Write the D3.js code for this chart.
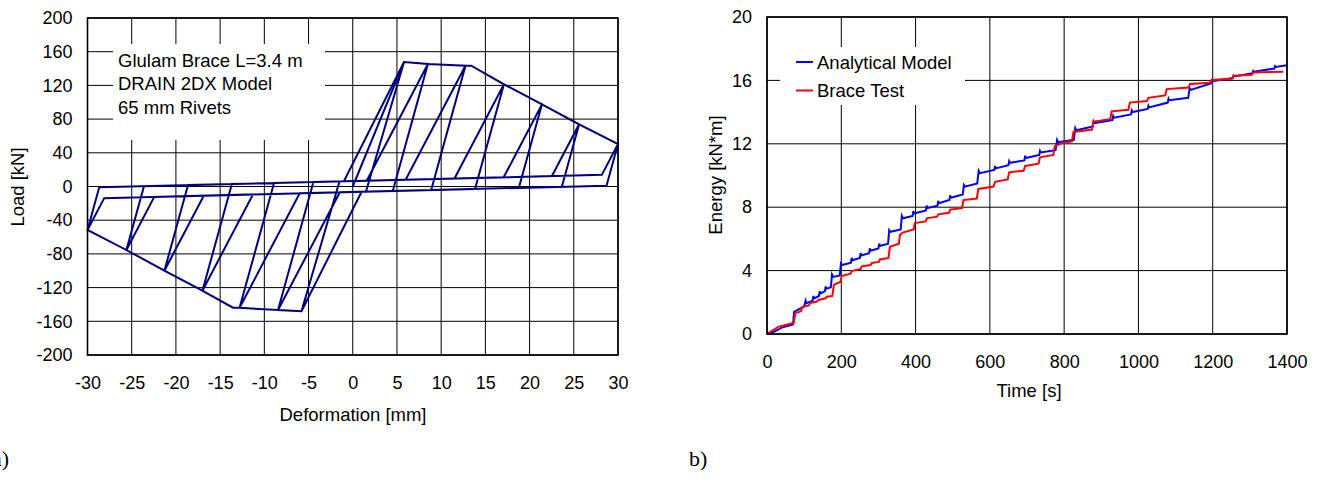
<!DOCTYPE html>
<html>
<head>
<meta charset="utf-8">
<script src="https://cdn.jsdelivr.net/npm/d3@7/dist/d3.min.js"></script>
<style>
  html, body { margin: 0; padding: 0; background: #fff; }
  svg { display: block; }
  text { font-family: "Liberation Sans", Arial, Helvetica, sans-serif; fill: #000; }
  .panel-tag { font-family: "Liberation Serif", "Times New Roman", serif; }
</style>
</head>
<body>
<svg id="fig" width="1324" height="486"></svg>
<script>
// ---- a) hysteresis: DRAIN 2DX model, vertices ----
const DEF_TICKS = [-30, -25, -20, -15, -10, -5, 0, 5, 10, 15, 20, 25, 30];
const LOAD_TICKS = [-200, -160, -120, -80, -40, 0, 40, 80, 120, 160, 200];

// envelope peaks per amplitude [deformation mm, load kN]
const posPeaks = [[5.8, 147.8], [8.5, 145.4], [12.75, 143.4], [17.1, 121.3], [21.4, 97.5], [25.6, 73.8], [30, 50.4]];
const negPeaks = [[-5.8, -148], [-8.45, -146.6], [-12.8, -144], [-17.0, -123.7], [-21.3, -99.9], [-25.6, -75.4], [-30, -51.6]];
// where reloading leaves the slip line
const posReload = [[-1.0, 6.2], [1.58, 6.91], [5.98, 8.06], [11.51, 9.49], [17.07, 10.94], [22.53, 12.36], [28.17, 13.82]];
const negReload = [[1.0, -6.2], [-1.46, -6.88], [-6.0, -8.06], [-11.29, -9.44], [-16.85, -10.88], [-22.45, -12.34], [-28.11, -13.81]];
// where unloading meets the slip line
const posUnload = [[1.5, -6.1], [4.53, -5.32], [8.87, -4.19], [13.83, -2.9], [18.79, -1.61], [23.65, -0.35], [28.7, 0.96]];
const negUnload = [[-1.5, 6.1], [-4.45, 5.34], [-8.9, 4.19], [-13.67, 2.95], [-18.63, 1.66], [-23.61, 0.36], [-28.67, -0.95]];
// backbone corners where strength starts dropping
const posCorner = [13.4, 143.4];
const negCorner = [-13.55, -143.8];

const NOTE_LINES = ['Glulam Brace L=3.4 m', 'DRAIN 2DX Model', '65 mm Rivets'];

// ---- b) dissipated energy ----
const TIME_TICKS = [0, 200, 400, 600, 800, 1000, 1200, 1400];
const ENERGY_TICKS = [0, 4, 8, 12, 16, 20];

const modelTime = [0, 20, 40, 70, 73, 100, 104, 106, 123, 125, 127, 140, 142, 144, 156, 158, 160, 172, 175, 178,
    196, 199, 202, 226, 228, 230, 250, 252, 254, 275, 277, 279, 300, 302, 304, 326, 329, 332, 360, 363, 366,
    392, 394, 396, 428, 430, 432, 459, 461, 463, 491, 493, 495, 527, 530, 533, 566, 570, 573, 612, 614, 616,
    650, 652, 654, 693, 695, 697, 733, 735, 737, 777, 781, 784, 826, 830, 833, 877, 879, 881, 930, 932, 934,
    980, 982, 984, 1025, 1027, 1029, 1079, 1081, 1083, 1134, 1138, 1141, 1195, 1197, 1199, 1254, 1256, 1258,
    1307, 1309, 1311, 1366, 1368, 1370, 1400];
const modelEnergy = [0, 0.15, 0.4, 0.6, 1.4, 1.75, 2.1, 1.95, 2.1, 2.4, 2.25, 2.4, 2.7, 2.55, 2.7, 3.0, 2.85, 2.95, 3.75, 3.6,
    3.7, 4.45, 4.35, 4.5, 4.8, 4.65, 4.8, 5.1, 4.95, 5.1, 5.4, 5.25, 5.4, 5.7, 5.55, 5.7, 6.55, 6.45, 6.6, 7.45, 7.3,
    7.45, 7.75, 7.6, 7.8, 8.1, 7.95, 8.1, 8.4, 8.25, 8.45, 8.75, 8.6, 8.8, 9.4, 9.3, 9.5, 10.3, 10.15, 10.35, 10.6, 10.45,
    10.65, 10.9, 10.8, 10.95, 11.25, 11.1, 11.3, 11.55, 11.45, 11.6, 12.25, 12.1, 12.25, 13.0, 12.85, 13.1, 13.4, 13.3, 13.5, 13.75, 13.65,
    13.85, 14.1, 14.0, 14.2, 14.4, 14.3, 14.6, 14.85, 14.75, 14.9, 15.5, 15.4, 15.8, 16.0, 15.95, 16.15, 16.3, 16.25,
    16.45, 16.6, 16.55, 16.75, 16.9, 16.85, 16.95];

const testTime = [0, 30, 55, 72, 76, 92, 95, 113, 116, 135, 138, 158, 161, 176, 180, 198, 201, 225, 228, 252, 255,
    279, 282, 301, 304, 327, 331, 355, 358, 365, 395, 398, 427, 430, 458, 461, 490, 493, 525, 529, 565, 569,
    610, 614, 648, 652, 691, 695, 731, 735, 771, 775, 795, 821, 825, 875, 879, 924, 928, 973, 977, 1023, 1027,
    1072, 1076, 1135, 1139, 1193, 1197, 1252, 1256, 1305, 1309, 1390];
const testEnergy = [0, 0.45, 0.6, 0.7, 1.3, 1.45, 1.7, 1.8, 1.95, 2.05, 2.15, 2.25, 2.35, 2.4, 3.1, 3.3, 3.65, 3.8, 3.97, 4.1, 4.27,
    4.35, 4.48, 4.55, 4.7, 4.8, 5.5, 5.7, 6.25, 6.4, 6.6, 7.0, 7.1, 7.3, 7.4, 7.55, 7.65, 7.85, 7.95, 8.45, 8.55, 9.15,
    9.3, 9.6, 9.75, 10.2, 10.3, 10.6, 10.75, 11.15, 11.3, 11.85, 12.05, 12.15, 12.75, 12.9, 13.4, 13.55, 14.05, 14.15, 14.6, 14.7, 14.9,
    15.05, 15.45, 15.55, 15.78, 15.85, 16.03, 16.1, 16.3, 16.35, 16.5, 16.55];

const SERIES = [
    { name: 'Analytical Model', color: '#0000ff', time: modelTime, energy: modelEnergy },
    { name: 'Brace Test', color: '#ff0000', time: testTime, energy: testEnergy },
];

const svg = d3.select('#fig');

function grid(g, x, y, xTicks, yTicks) {
    const [x0, x1] = x.range();
    const [y0, y1] = y.range();
    g.append('g').selectAll('line').data(xTicks).join('line')
        .attr('x1', d => x(d)).attr('x2', d => x(d))
        .attr('y1', y0).attr('y2', y1)
        .attr('stroke', '#000').attr('stroke-width', 1);
    g.append('g').selectAll('line').data(yTicks).join('line')
        .attr('x1', x0).attr('x2', x1)
        .attr('y1', d => y(d)).attr('y2', d => y(d))
        .attr('stroke', '#000').attr('stroke-width', 1);
}

function frame(g, x, y) {
    const [x0, x1] = x.range();
    const [y0, y1] = y.range();
    g.append('rect')
        .attr('x', x0).attr('y', y1)
        .attr('width', x1 - x0).attr('height', y0 - y1)
        .attr('fill', 'none').attr('stroke', '#000').attr('stroke-width', 1.6);
}

// plain hyphen minus, no thousands separator
const plain = d => String(d);

function tickLabels(g, x, y, xTicks, yTicks) {
    const [y0] = y.range();
    const [x0] = x.range();
    g.append('g')
        .attr('transform', `translate(0,${y0})`)
        .call(d3.axisBottom(x).tickValues(xTicks).tickFormat(plain).tickSize(0).tickPadding(21))
        .call(a => a.select('.domain').remove())
        .selectAll('text').attr('font-size', '18px').attr('font-family', null);
    g.append('g')
        .attr('transform', `translate(${x0},0)`)
        .call(d3.axisLeft(y).tickValues(yTicks).tickFormat(plain).tickSize(0).tickPadding(15))
        .call(a => a.select('.domain').remove())
        .selectAll('text').attr('font-size', '18px').attr('font-family', null);
}

function drawHysteresis() {
    const x = d3.scaleLinear().domain([-30, 30]).range([87.5, 618]);
    const y = d3.scaleLinear().domain([-200, 200]).range([355, 18]);
    const g = svg.append('g');

    grid(g, x, y, DEF_TICKS, LOAD_TICKS);

    // note box hides the grid behind it
    g.append('rect').attr('x', 113).attr('y', 44).attr('width', 212).attr('height', 96).attr('fill', '#fff');
    g.append('g').selectAll('text').data(NOTE_LINES).join('text')
        .attr('x', 118).attr('y', (d, i) => 67 + i * 23.3)
        .attr('font-size', '18.5px')
        .text(d => d);

    // walk the loading protocol: two cycles per amplitude
    const pts = [[0, 0], posPeaks[0], posUnload[0], negReload[0], negPeaks[0], negUnload[0]];
    pts.push(posReload[0], posPeaks[0], posUnload[0], negReload[0], negPeaks[0], negUnload[0]);
    for (let i = 1; i < posPeaks.length; i++) {
        pts.push(posReload[i - 1], posPeaks[i - 1]);
        if (i === 3) pts.push(posCorner);
        pts.push(posPeaks[i], posUnload[i], negReload[i - 1], negPeaks[i - 1]);
        if (i === 3) pts.push(negCorner);
        pts.push(negPeaks[i], negUnload[i]);
        pts.push(posReload[i], posPeaks[i], posUnload[i], negReload[i], negPeaks[i], negUnload[i]);
    }

    g.append('path')
        .datum(pts)
        .attr('d', d3.line().x(d => x(d[0])).y(d => y(d[1])))
        .attr('fill', 'none')
        .attr('stroke', '#000080')
        .attr('stroke-width', 2)
        .attr('stroke-linejoin', 'miter');

    frame(g, x, y);
    tickLabels(g, x, y, DEF_TICKS, LOAD_TICKS);

    g.append('text').attr('x', 353).attr('y', 421).attr('text-anchor', 'middle')
        .attr('font-size', '18.5px').text('Deformation [mm]');
    g.append('text').attr('transform', 'translate(24,187) rotate(-90)').attr('text-anchor', 'middle')
        .attr('font-size', '18.5px').text('Load [kN]');
}

function drawEnergy() {
    const x = d3.scaleLinear().domain([0, 1400]).range([767, 1287]);
    const y = d3.scaleLinear().domain([0, 20]).range([334, 17]);
    const g = svg.append('g');

    grid(g, x, y, TIME_TICKS, ENERGY_TICKS);

    const line = d3.line().x(d => x(d[0])).y(d => y(d[1]));
    SERIES.forEach(s => {
        g.append('path')
            .datum(s.time.map((t, i) => [t, s.energy[i]]))
            .attr('d', line)
            .attr('fill', 'none')
            .attr('stroke', s.color)
            .attr('stroke-width', 2);
    });

    // legend
    g.append('rect').attr('x', 780).attr('y', 47).attr('width', 185).attr('height', 58).attr('fill', '#fff');
    SERIES.forEach((s, i) => {
        const ly = 62 + i * 28.5;
        g.append('line').attr('x1', 796).attr('x2', 813).attr('y1', ly).attr('y2', ly)
            .attr('stroke', s.color).attr('stroke-width', 2);
        g.append('text').attr('x', 817).attr('y', ly + 6.5).attr('font-size', '18.5px').text(s.name);
    });

    frame(g, x, y);
    tickLabels(g, x, y, TIME_TICKS, ENERGY_TICKS);

    g.append('text').attr('x', 1029).attr('y', 397).attr('text-anchor', 'middle')
        .attr('font-size', '18.5px').text('Time [s]');
    g.append('text').attr('transform', 'translate(722,175) rotate(-90)').attr('text-anchor', 'middle')
        .attr('font-size', '18.5px').text('Energy [kN*m]');
}

drawHysteresis();
drawEnergy();

// panel tags; "a)" runs off the left edge in the source figure too
svg.append('text').attr('class', 'panel-tag').attr('x', 9).attr('y', 466)
    .attr('text-anchor', 'end').attr('font-size', '22px').text('a)');
svg.append('text').attr('class', 'panel-tag').attr('x', 689).attr('y', 466)
    .attr('font-size', '22px').text('b)');
</script>
</body>
</html>
